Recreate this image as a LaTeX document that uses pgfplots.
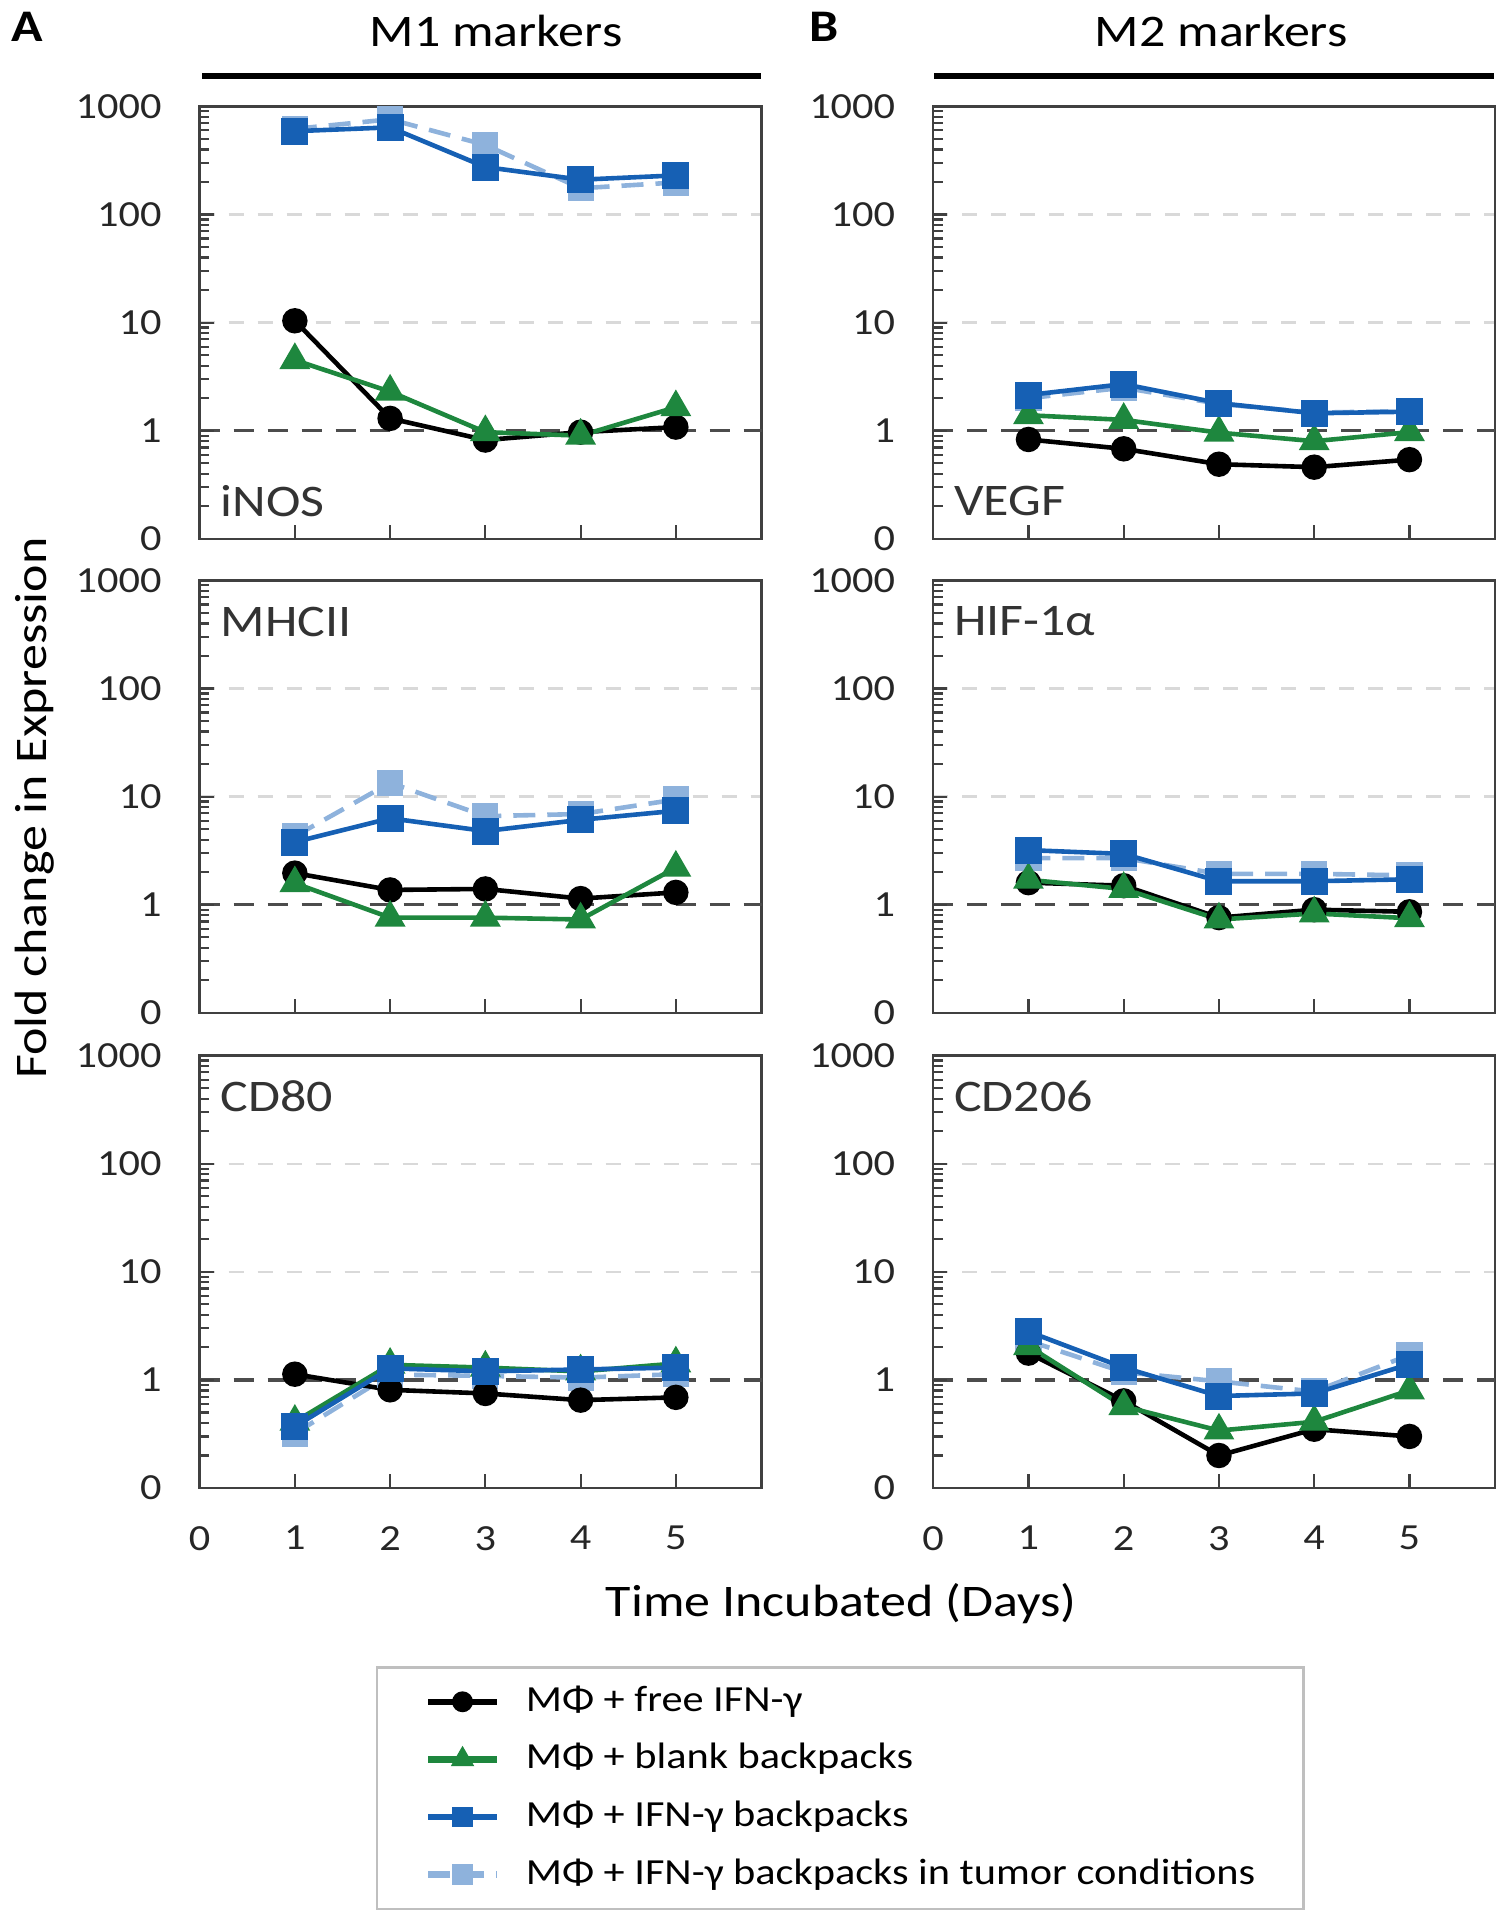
\documentclass[border=0pt]{standalone}
\usepackage{fontspec}
\setmainfont{Carlito}[FakeStretch=1.15]
\usepackage{pgfplots}
\usepackage{pgfplotstable}
\pgfplotsset{compat=1.18}

\definecolor{cfree}{RGB}{0,0,0}
\definecolor{cblank}{RGB}{30,135,62}
\definecolor{cifn}{RGB}{22,96,180}
\definecolor{ctumor}{RGB}{142,178,220}
\definecolor{cframe}{RGB}{64,64,64}

% fold change per day; columns: free IFN, blank backpacks, IFN backpacks, tumor conditions
\pgfplotstableread{
x free blank ifn tumor
1 10.4 4.5  590 620
2 1.30 2.3  640 760
3 0.82 0.97 275 440
4 0.97 0.90 210 175
5 1.08 1.65 230 198
}\iNOS
\pgfplotstableread{
x free blank ifn tumor
1 1.96 1.58 3.8 4.3
2 1.37 0.76 6.3 13.4
3 1.40 0.76 4.8 6.6
4 1.14 0.73 6.1 6.9
5 1.30 2.20 7.4 9.4
}\MHCII
\pgfplotstableread{
x free blank ifn tumor
1 1.13 0.41 0.37 0.32
2 0.81 1.38 1.28 1.12
3 0.75 1.30 1.20 1.09
4 0.65 1.20 1.25 1.05
5 0.69 1.42 1.30 1.13
}\CDeighty
\pgfplotstableread{
x free blank ifn tumor
1 0.83 1.39 2.14 2.00
2 0.68 1.26 2.70 2.50
3 0.49 0.96 1.80 1.77
4 0.46 0.80 1.45 1.47
5 0.54 0.97 1.50 1.52
}\VEGF
\pgfplotstableread{
x free blank ifn tumor
1 1.60 1.70 3.20 2.70
2 1.50 1.40 2.95 2.70
3 0.76 0.73 1.65 1.93
4 0.90 0.83 1.65 1.93
5 0.86 0.75 1.72 1.87
}\HIF
\pgfplotstableread{
x free blank ifn tumor
1 1.77 2.05 2.80 2.30
2 0.64 0.57 1.30 1.18
3 0.20 0.34 0.71 0.97
4 0.35 0.41 0.75 0.78
5 0.30 0.80 1.40 1.70
}\CDtwo

\pgfplotsset{
  every axis/.append style={
    scale only axis, width=140.5pt, height=108.1pt,
    anchor=north west,
    xmin=0, xmax=5.9, ymin=0.1, ymax=1000,
    xtick={0,1,2,3,4,5},
    ytick={0.1,10,100,1000}, yticklabels={0,10,100,1000},
    extra y ticks={1}, extra y tick labels={1},
    extra y tick style={grid=major,
      major grid style={dash pattern=on 5pt off 3.5pt, line width=0.8pt, color=black!70}},
    minor ytick={0.2,0.3,0.4,0.5,0.6,0.7,0.8,0.9,2,3,4,5,6,7,8,9,20,30,40,50,60,70,80,90,200,300,400,500,600,700,800,900},
    ymajorgrids,
    major grid style={dash pattern=on 3.75pt off 3.5pt, color=black!15, line width=0.6pt},
    tick align=inside, xtick pos=bottom, ytick pos=left,
    major tick length=3.5pt, minor tick length=2.4pt,
    tick style={cframe, line width=0.55pt},
    axis line style={cframe, line width=0.6pt},
    /pgf/number format/assume math mode=true,
    ticklabel style={font=\fontsize{9.2}{11}\selectfont, text=black!85},
    yticklabel style={xshift=-6pt},
    xticklabel style={yshift=-6pt},
    clip=false,
  },
  sfree/.style={cfree, line width=1.15pt, mark=*, mark size=2.6pt},
  sblank/.style={cblank, line width=1.15pt, mark=triangle*, mark size=3.3pt},
  sifn/.style={cifn, line width=1.15pt, mark=square*, mark size=2.8pt},
  stumor/.style={ctumor, line width=1.15pt, dash pattern=on 5.5pt off 3pt, mark=square*, mark size=2.7pt, mark options={solid}},
}
\tikzset{plab/.style={anchor=west, inner sep=0pt, font=\fontsize{11.3}{13}\selectfont, text=black!80}}

\newcommand\series[1]{%
  \addplot[stumor] table[x=x,y=tumor]{#1};
  \addplot[sfree] table[x=x,y=free]{#1};
  \addplot[sblank] table[x=x,y=blank]{#1};
  \addplot[sifn] table[x=x,y=ifn]{#1};
}

\begin{document}
\begin{tikzpicture}
\path[use as bounding box] (0,0) rectangle (377.5pt,-480pt);

\node[font=\bfseries\fontsize{11.3}{13}\selectfont] at (6.7pt,-6.7pt) {A};
\node[font=\bfseries\fontsize{11.3}{13}\selectfont] at (206pt,-6.7pt) {B};
\node[font=\fontsize{11.3}{13}\selectfont] at (124pt,-7.65pt) {M1 markers};
\node[font=\fontsize{11.3}{13}\selectfont] at (305.3pt,-7.65pt) {M2 markers};
\draw[line width=1.5pt] (50.5pt,-19pt) -- (190.2pt,-19pt);
\draw[line width=1.5pt] (233.5pt,-19pt) -- (373.6pt,-19pt);
\node[rotate=90, font=\fontsize{11.3}{13}\selectfont] at (8.6pt,-202pt) {Fold change in Expression};
\node[font=\fontsize{11.3}{13}\selectfont] at (210.3pt,-401pt) {Time Incubated (Days)};

% column A
\begin{semilogyaxis}[at={(49.9pt,-26.6pt)}, xticklabels={}]
\series{\iNOS}
\node[plab] at (rel axis cs:0.036,0.088) {iNOS};
\end{semilogyaxis}
\begin{semilogyaxis}[at={(49.9pt,-145.1pt)}, xticklabels={}]
\series{\MHCII}
\node[plab] at (rel axis cs:0.036,0.905) {MHCII};
\end{semilogyaxis}
\begin{semilogyaxis}[at={(49.9pt,-263.9pt)},
  legend style={at={(1.140,-0.412)}, anchor=north, draw=black!25, line width=0.6pt,
    font=\fontsize{9.2}{11}\selectfont, inner xsep=12pt, inner ysep=3pt,
    row sep=3.2pt, column sep=6.5pt,
    nodes={inner xsep=0pt, inner ysep=1pt, text height=7pt, text depth=2.2pt}},
  legend cell align=left,
  legend image post style={mark size=1.8pt, line width=1.6pt}]
\addlegendimage{sfree}\addlegendentry{MΦ + free IFN-γ}
\addlegendimage{sblank}\addlegendentry{MΦ + blank backpacks}
\addlegendimage{sifn}\addlegendentry{MΦ + IFN-γ backpacks}
\addlegendimage{stumor}\addlegendentry{MΦ + IFN-γ backpacks in tumor conditions}
\series{\CDeighty}
\node[plab] at (rel axis cs:0.036,0.905) {CD80};
\end{semilogyaxis}

% column B
\begin{semilogyaxis}[at={(233.3pt,-26.6pt)}, xticklabels={}]
\series{\VEGF}
\node[plab] at (rel axis cs:0.036,0.088) {VEGF};
\end{semilogyaxis}
\begin{semilogyaxis}[at={(233.3pt,-145.1pt)}, xticklabels={}]
\series{\HIF}
\node[plab] at (rel axis cs:0.036,0.905) {HIF-1α};
\end{semilogyaxis}
\begin{semilogyaxis}[at={(233.3pt,-263.9pt)}]
\series{\CDtwo}
\node[plab] at (rel axis cs:0.036,0.905) {CD206};
\end{semilogyaxis}
\end{tikzpicture}
\end{document}
